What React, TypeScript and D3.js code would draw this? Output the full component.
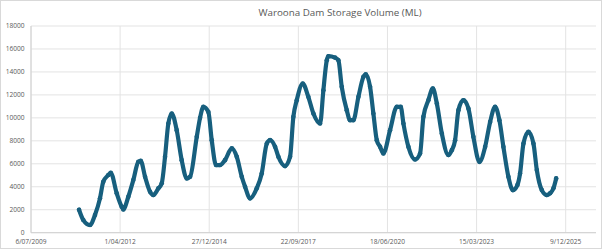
import React from "react";
import * as d3 from "d3";

// Excel date serials (days)
const dateSerial = [
  40539, 40587, 40662, 40718, 40774, 40811, 40868, 40895, 40962, 41018,
  41036, 41092, 41148, 41204, 41231, 41280, 41336, 41373, 41429, 41467,
  41504, 41541, 41579, 41635, 41691, 41748, 41785, 41860, 41897, 41934,
  41990, 42028, 42076, 42121, 42177, 42253, 42309, 42365, 42402, 42458,
  42533, 42589, 42646, 42683, 42739, 42776, 42851, 42907, 42944, 42982,
  43049, 43112, 43169, 43244, 43281, 43319, 43337, 43412, 43449, 43487,
  43543, 43580, 43617, 43674, 43730, 43757, 43805, 43842, 43880, 43917,
  43954, 44029, 44105, 44149, 44179, 44235, 44310, 44366, 44403, 44459,
  44509, 44554, 44610, 44684, 44722, 44759, 44796, 44852, 44908, 44964,
  45032, 45096, 45152, 45208, 45256, 45301, 45357, 45407, 45458, 45488,
  45526, 45582, 45638, 45676, 45732, 45788, 45825, 45862, 45893,
];

// Storage volume (ML)
const volumeML = [
  2000, 1100, 670, 1540, 2990, 4430, 5020, 5220, 3430, 2260,
  2030, 3130, 4580, 6170, 6260, 4870, 3570, 3280, 3860, 4300,
  6610, 9510, 10380, 8930, 6320, 4730, 4870, 8350, 10000, 10960,
  10520, 8060, 5890, 5890, 6320, 7340, 6610, 4870, 4000, 2990,
  3860, 5160, 7770, 8060, 7480, 6610, 5800, 6610, 10090, 11540,
  12990, 11830, 10380, 9510, 12410, 15020, 15370, 15250, 15020, 12700,
  10670, 9800, 9800, 11830, 13570, 13800, 12700, 10380, 8060, 7480,
  6900, 8930, 10960, 10960, 9510, 7480, 6380, 6900, 10090, 11540,
  12560, 11250, 8640, 6760, 7190, 8060, 10670, 11540, 10820, 8350,
  6170, 7480, 9650, 10960, 9800, 7480, 4870, 3710, 4150, 5160,
  7770, 8780, 7770, 5450, 3710, 3280, 3430, 3860, 4730,
];

const xTickSerials = [40000, 41000, 42000, 43000, 44000, 45000, 46000];
const xTickLabels = ["6/07/2009", "1/04/2012", "27/12/2014", "22/09/2017", "18/06/2020", "15/03/2023", "9/12/2025"];
const yTicks = [0, 2000, 4000, 6000, 8000, 10000, 12000, 14000, 16000, 18000];
const title = "Waroona Dam Storage Volume (ML)";

const W = 602;
const H = 249;
const left = 31;
const right = 596;
const top = 26;
const bottom = 232.7;
const color = "#175f7e";
const font = "'Open Sans', 'Liberation Sans', sans-serif";

export default function App() {
  const x = d3.scaleLinear().domain([40000, 46340]).range([left, right]);
  const y = d3.scaleLinear().domain([0, 18000]).range([bottom, top]);
  const data = dateSerial.map((d, i) => ({ d, v: volumeML[i] }));
  const line = d3
    .line<{ d: number; v: number }>()
    .x((p) => x(p.d))
    .y((p) => y(p.v))
    .curve(d3.curveMonotoneX);

  return (
    <div style={{ position: "fixed", left: 0, top: 0 }}>
      <svg width={W} height={H} style={{ display: "block", background: "#fff" }}>
        <rect x={0.5} y={0.5} width={W - 1} height={H - 1} fill="#fff" stroke="#d9d9d9" />
        <text x={340} y={16} textAnchor="middle" fontFamily={font} fontSize={9.8} fill="#595959">
          {title}
        </text>
        {yTicks.map((t) => (
          <g key={"y" + t}>
            <line x1={left} x2={right} y1={y(t)} y2={y(t)} stroke="#e3e3e3" strokeWidth={1} />
            <text x={24.5} y={y(t) + 2.4} textAnchor="end" fontFamily={font} fontSize={6.6} fill="#595959">
              {t}
            </text>
          </g>
        ))}
        {xTickSerials.map((t, i) => (
          <g key={"x" + t}>
            <line x1={x(t)} x2={x(t)} y1={top} y2={bottom} stroke="#e3e3e3" strokeWidth={1} />
            <text x={x(t)} y={244} textAnchor="middle" fontFamily={font} fontSize={6.6} fill="#595959">
              {xTickLabels[i]}
            </text>
          </g>
        ))}
        <line x1={left} x2={right} y1={bottom} y2={bottom} stroke="#d0d0d0" />
        <line x1={left} x2={left} y1={top} y2={bottom} stroke="#d0d0d0" />
        <path d={line(data) || ""} fill="none" stroke={color} strokeWidth={4.2} strokeLinejoin="round" strokeLinecap="round" />
        {data.map((p, i) => (
          <circle key={i} cx={x(p.d)} cy={y(p.v)} r={2.3} fill={color} />
        ))}
      </svg>
    </div>
  );
}
